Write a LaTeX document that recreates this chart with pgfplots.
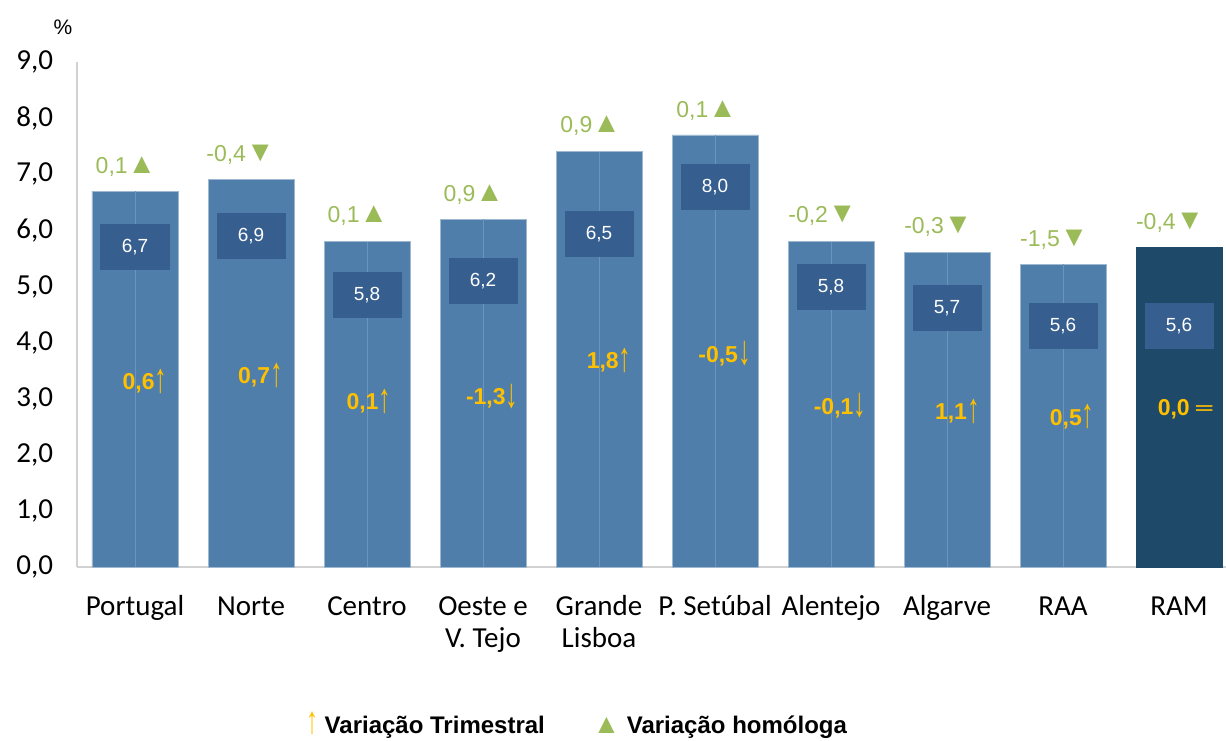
\documentclass[border=0pt]{standalone}
\usepackage{fontspec}
\setmainfont{Liberation Sans}
\newfontfamily\calibri{Carlito}
\usepackage{graphicx}
\usepackage{pgfplots}
\pgfplotsset{compat=1.18}

\definecolor{barblue}{HTML}{4F7EAA}
\definecolor{ramblue}{HTML}{1F4969}
\definecolor{boxblue}{HTML}{365E8F}
\definecolor{midline}{HTML}{6C94BC}
\definecolor{grn}{HTML}{9BBB59}
\definecolor{yel}{HTML}{FFC000}

% tall thin arrows and slightly larger triangles, as in the original
\newcommand\up{\raisebox{-1.3pt}{\mdseries\scalebox{1.1}[1.8]{↑}}}
\newcommand\dn{\raisebox{-1.3pt}{\mdseries\scalebox{1.1}[1.8]{↓}}}
\newcommand\tup{\scalebox{1.25}{▲}}
\newcommand\tdn{\scalebox{1.25}{▼}}

\begin{document}
\begin{tikzpicture}
\begin{axis}[
  scale only axis, width=574.5pt, height=252.5pt,
  xmin=-0.5, xmax=9.405, ymin=0, ymax=9,
  clip=false,
  axis x line*=bottom, axis y line*=left,
  axis line style={black!18, line width=1pt, -},
  major tick length=0pt,
  ytick={0,1,...,9},
  yticklabel style={font=\calibri\fontsize{14.5}{16}\selectfont, xshift=-8.5pt},
  /pgf/number format/.cd, fixed, fixed zerofill, precision=1, use comma, assume math mode=true,
  /pgfplots/.cd,
  xtick={0,...,9},
  xticklabels={\strut Portugal,\strut Norte,\strut Centro,{\strut Oeste e\\V. Tejo},{\strut Grande\\Lisboa},\strut P. Setúbal,\strut Alentejo,\strut Algarve,\strut RAA,\strut RAM},
  xticklabel style={font=\calibri\fontsize{14.5}{16}\selectfont, align=center, anchor=north, yshift=-9.5pt},
]
\addplot[ybar, bar width=43pt, fill=barblue, draw=barblue!55!white, line width=0.4pt]
  coordinates {(0,6.7) (1,6.9) (2,5.8) (3,6.2) (4,7.4) (5,7.7) (6,5.8) (7,5.6) (8,5.4)};
\addplot[ybar, bar width=43pt, fill=ramblue, draw=ramblue, line width=0.4pt]
  coordinates {(9,5.7)};
\addplot[ycomb, no marks, draw=midline, line width=0.5pt]
  coordinates {(0,6.7) (2,5.8) (3,6.2) (4,7.4) (5,7.7) (6,5.8) (7,5.6) (8,5.4)};

% boxed labels
\addplot[only marks, mark=*, mark size=0pt, mark options={draw=none,fill=none},
  point meta=explicit symbolic, nodes near coords, nodes near coords align=center,
  every node near coord/.append style={fill=boxblue, text=white, minimum width=34.5pt,
    minimum height=23pt, inner sep=0pt, font=\fontsize{9.5}{11}\selectfont}]
  coordinates {(0,5.70)[6,7] (1,5.90)[6,9] (2,4.85)[5,8] (3,5.10)[6,2] (4,5.93)[6,5]
    (5,6.77)[8,0] (6,4.99)[5,8] (7,4.62)[5,7] (8,4.30)[5,6] (9,4.30)[5,6]};

% variacao homologa
\addplot[only marks, mark=*, mark size=0pt, mark options={draw=none,fill=none},
  point meta=explicit symbolic, nodes near coords, nodes near coords align=center,
  every node near coord/.append style={text=grn, inner sep=0pt, font=\fontsize{11.5}{13}\selectfont}]
  coordinates {(-0.078,7.13)[0,1\tup] (0.909,7.34)[-0,4\tdn] (1.921,6.26)[0,1\tup] (2.920,6.64)[0,9\tup]
    (3.928,7.86)[0,9\tup] (4.927,8.14)[0,1\tup] (5.926,6.26)[-0,2\tdn] (6.925,6.06)[-0,3\tdn]
    (7.924,5.84)[-1,5\tdn] (8.923,6.14)[-0,4\tdn]};

% variacao trimestral
\addplot[only marks, mark=*, mark size=0pt, mark options={draw=none,fill=none},
  point meta=explicit symbolic, nodes near coords, nodes near coords align=center,
  every node near coord/.append style={text=yel, inner sep=0pt, font=\fontsize{11.5}{13}\selectfont}]
  coordinates {(0.086,3.31)[\textbf{0,6}\up] (1.081,3.42)[\textbf{0,7}\up] (2.016,2.95)[\textbf{0,1}\up]
    (3.079,3.04)[\textbf{-1,3}\dn] (4.087,3.68)[\textbf{1,8}\up] (5.082,3.80)[\textbf{-0,5}\dn]
    (6.077,2.87)[\textbf{-0,1}\dn] (7.089,2.77)[\textbf{1,1}\up] (8.079,2.68)[\textbf{0,5}\up]
    (9.053,2.82)[\textbf{0,0 ═}]};
\end{axis}
\node[font=\fontsize{10.5}{12}\selectfont] at (-7pt,270pt) {\%};
\node[font=\fontsize{12}{14}\selectfont\bfseries, anchor=base] at (249.75pt,-83pt)
  {{\color{yel}\mdseries\scalebox{1}[1.6]{↑}} Variação Trimestral\hspace{24pt}{\color{grn}\scalebox{1.15}{▲}} Variação homóloga};
\pgfresetboundingbox
\useasboundingbox (-38.5pt,-86.5pt) rectangle (574.5pt,283.5pt);
\end{tikzpicture}
\end{document}
